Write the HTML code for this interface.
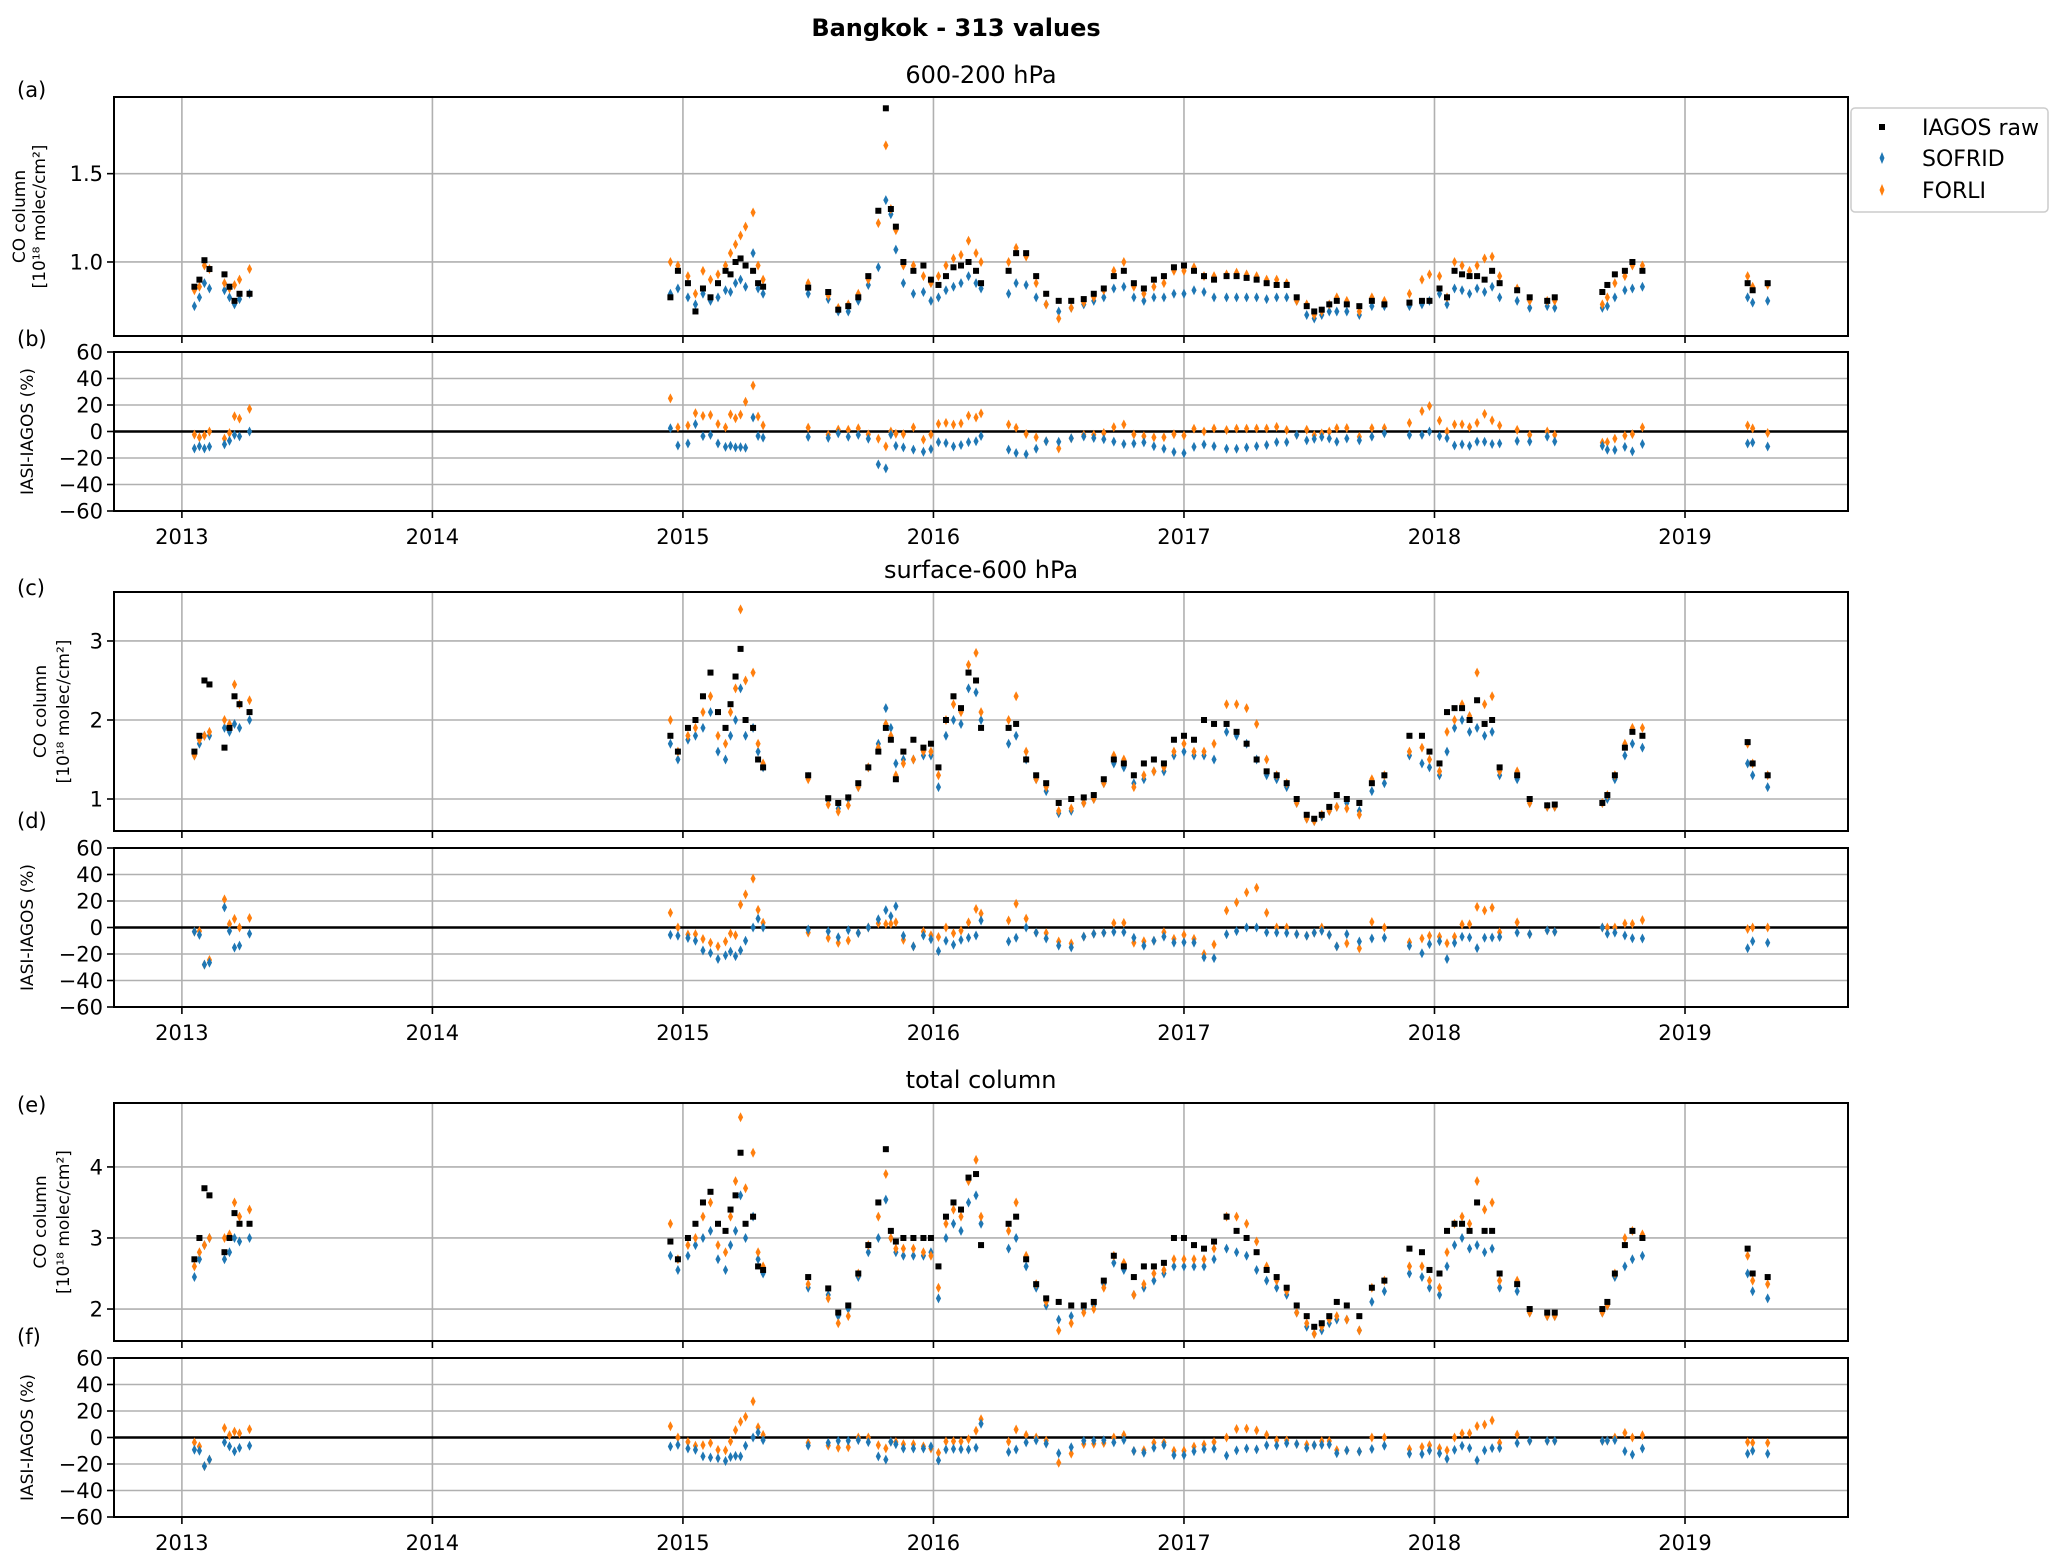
<!DOCTYPE html>
<html><head><meta charset="utf-8"><style>
html,body{margin:0;padding:0;background:#fff;}
svg{display:block;font-family:"DejaVu Sans","Liberation Sans",sans-serif;}
</style></head><body>
<svg id="fig" width="2067" height="1563" viewBox="0 0 2067 1563" xmlns="http://www.w3.org/2000/svg">
<text x="956" y="36" font-size="24" font-weight="bold" text-anchor="middle">Bangkok - 313 values</text>
<g id="plots"></g>
<g>
<rect x="1851" y="108" width="197" height="104" rx="4" fill="#fff" stroke="#ccc" stroke-width="1.5"/>
<rect x="1879" y="124" width="6" height="6" fill="#000"/>
<polygon points="1882,152 1884.5,158 1882,164 1879.5,158" fill="#1f77b4"/>
<polygon points="1882,184 1884.5,190 1882,196 1879.5,190" fill="#ff7f0e"/>
<text x="1922" y="135" font-size="22">IAGOS raw</text>
<text x="1922" y="166" font-size="22">SOFRID</text>
<text x="1922" y="198" font-size="22">FORLI</text>
</g>
</svg>
<script>
const dates=[2013.05,2013.07,2013.09,2013.11,2013.17,2013.19,2013.21,2013.23,2013.27,
2014.95,2014.98,2015.02,2015.05,2015.08,2015.11,2015.14,2015.17,2015.19,2015.21,2015.23,2015.25,2015.28,2015.30,2015.32,
2015.50,2015.58,2015.62,2015.66,2015.70,2015.74,2015.78,2015.81,2015.83,2015.85,2015.88,2015.92,2015.96,2015.99,
2016.02,2016.05,2016.08,2016.11,2016.14,2016.17,2016.19,
2016.30,2016.33,2016.37,2016.41,2016.45,
2016.50,2016.55,2016.60,2016.64,2016.68,2016.72,2016.76,2016.80,2016.84,2016.88,2016.92,2016.96,
2017.00,2017.04,2017.08,2017.12,2017.17,2017.21,2017.25,2017.29,2017.33,2017.37,2017.41,2017.45,
2017.49,2017.52,2017.55,2017.58,2017.61,2017.65,2017.70,2017.75,2017.80,
2017.90,2017.95,2017.98,2018.02,2018.05,2018.08,2018.11,2018.14,2018.17,2018.20,2018.23,2018.26,
2018.33,2018.38,2018.45,2018.48,
2018.67,2018.69,2018.72,2018.76,2018.79,2018.83,
2019.25,2019.27,2019.33];
const upperIagos=[0.86,0.90,1.01,0.96,0.93,0.86,0.78,0.82,0.82,
0.80,0.95,0.88,0.72,0.85,0.80,0.88,0.95,0.93,1.0,1.02,0.98,0.95,0.88,0.86,
0.855,0.83,0.73,0.75,0.80,0.92,1.29,1.87,1.30,1.2,1.0,0.95,0.98,0.9,
0.87,0.92,0.97,0.98,1.0,0.95,0.88,
0.95,1.05,1.05,0.92,0.82,
0.78,0.78,0.79,0.82,0.85,0.92,0.95,0.88,0.85,0.90,0.92,0.97,
0.98,0.95,0.92,0.90,0.92,0.92,0.91,0.90,0.88,0.87,0.87,0.80,
0.75,0.72,0.73,0.76,0.78,0.76,0.75,0.78,0.76,
0.77,0.78,0.78,0.85,0.80,0.95,0.93,0.92,0.92,0.90,0.95,0.88,
0.84,0.80,0.78,0.80,
0.83,0.87,0.93,0.95,1.0,0.95,
0.88,0.84,0.88];
const upperSofrid=[0.75,0.80,0.88,0.85,0.84,0.80,0.76,0.79,0.82,
0.82,0.85,0.80,0.76,0.82,0.78,0.80,0.84,0.83,0.88,0.90,0.86,1.05,0.85,0.82,
0.82,0.79,0.72,0.72,0.78,0.87,0.97,1.35,1.27,1.07,0.88,0.82,0.83,0.78,
0.80,0.84,0.86,0.88,0.92,0.88,0.85,
0.82,0.88,0.87,0.80,0.76,
0.72,0.74,0.76,0.78,0.80,0.85,0.86,0.80,0.78,0.80,0.80,0.82,
0.82,0.84,0.83,0.80,0.80,0.80,0.80,0.80,0.79,0.80,0.80,0.78,
0.70,0.68,0.70,0.72,0.72,0.72,0.70,0.75,0.75,
0.75,0.76,0.78,0.82,0.76,0.85,0.84,0.82,0.85,0.83,0.86,0.80,
0.78,0.74,0.75,0.74,
0.74,0.75,0.80,0.84,0.85,0.86,
0.80,0.77,0.78];
const upperForli=[0.84,0.86,0.98,0.96,0.88,0.85,0.87,0.90,0.96,
1.0,0.98,0.92,0.82,0.95,0.90,0.93,0.98,1.05,1.10,1.15,1.20,1.28,0.98,0.90,
0.88,0.81,0.74,0.76,0.82,0.90,1.22,1.66,1.30,1.18,0.98,0.98,0.92,0.88,
0.92,0.98,1.02,1.04,1.12,1.05,1.0,
1.0,1.08,1.03,0.88,0.76,
0.68,0.74,0.77,0.80,0.84,0.95,1.0,0.86,0.82,0.86,0.88,0.95,
0.95,0.97,0.92,0.92,0.93,0.94,0.93,0.92,0.90,0.90,0.88,0.78,
0.76,0.70,0.72,0.76,0.80,0.78,0.72,0.80,0.78,
0.82,0.90,0.93,0.92,0.80,1.0,0.98,0.95,0.98,1.02,1.03,0.92,
0.85,0.78,0.78,0.78,
0.76,0.80,0.88,0.92,0.98,0.98,
0.92,0.86,0.87];
const lowerIagos=[1.6,1.8,2.5,2.45,1.65,1.9,2.3,2.2,2.1,
1.8,1.6,1.9,2.0,2.3,2.6,2.1,1.9,2.2,2.55,2.9,2.0,1.9,1.5,1.4,
1.30,1.01,0.95,1.02,1.2,1.4,1.6,1.9,1.75,1.25,1.6,1.75,1.65,1.7,
1.4,2.0,2.3,2.15,2.6,2.5,1.9,
1.9,1.95,1.5,1.3,1.2,
0.95,1.0,1.02,1.05,1.25,1.5,1.45,1.3,1.45,1.5,1.45,1.75,
1.8,1.75,2.0,1.95,1.95,1.85,1.7,1.5,1.35,1.3,1.2,1.0,
0.8,0.75,0.8,0.9,1.05,1.0,0.95,1.2,1.3,
1.8,1.8,1.6,1.45,2.1,2.15,2.15,2.0,2.25,1.95,2.0,1.4,
1.3,1.0,0.92,0.93,
0.95,1.05,1.3,1.65,1.85,1.8,
1.72,1.45,1.3];
const lowerSofrid=[1.55,1.7,1.8,1.8,1.9,1.85,1.95,1.9,2.0,
1.7,1.5,1.75,1.8,1.9,2.1,1.6,1.5,1.8,2.0,2.4,1.8,1.9,1.6,1.4,
1.28,0.98,0.88,1.0,1.15,1.4,1.7,2.15,1.9,1.45,1.5,1.5,1.55,1.55,
1.15,1.8,2.0,1.95,2.4,2.35,2.0,
1.7,1.8,1.5,1.25,1.1,
0.82,0.85,0.95,1.0,1.2,1.45,1.4,1.2,1.25,1.35,1.35,1.55,
1.6,1.55,1.55,1.5,1.85,1.8,1.7,1.5,1.3,1.25,1.15,0.95,
0.75,0.72,0.78,0.85,0.9,0.95,0.85,1.1,1.2,
1.55,1.45,1.4,1.3,1.6,1.9,2.0,1.85,1.9,1.8,1.85,1.3,
1.25,0.95,0.9,0.9,
0.95,1.0,1.25,1.55,1.7,1.65,
1.45,1.3,1.15];
const lowerForli=[1.55,1.75,1.8,1.85,2.0,1.95,2.45,2.2,2.25,
2.0,1.6,1.8,1.9,2.1,2.3,1.8,1.7,2.1,2.4,3.4,2.5,2.6,1.7,1.45,
1.25,0.93,0.84,0.92,1.15,1.4,1.65,1.95,1.8,1.3,1.45,1.5,1.6,1.6,
1.3,2.0,2.2,2.1,2.7,2.85,2.1,
2.0,2.3,1.6,1.25,1.15,
0.85,0.88,0.95,1.0,1.2,1.55,1.5,1.15,1.3,1.35,1.4,1.6,
1.7,1.6,1.6,1.7,2.2,2.2,2.15,1.95,1.5,1.3,1.2,0.95,
0.75,0.72,0.8,0.85,0.9,0.88,0.8,1.25,1.3,
1.6,1.65,1.5,1.35,1.85,2.0,2.2,2.05,2.6,2.2,2.3,1.35,
1.35,0.95,0.9,0.9,
0.95,1.05,1.3,1.7,1.9,1.9,
1.7,1.45,1.3];
const totalIagos=[2.7,3.0,3.7,3.6,2.8,3.0,3.35,3.2,3.2,
2.95,2.7,3.0,3.2,3.5,3.65,3.2,3.1,3.4,3.6,4.2,3.2,3.3,2.6,2.55,
2.45,2.29,1.95,2.05,2.5,2.9,3.5,4.25,3.1,2.95,3.0,3.0,3.0,3.0,
2.6,3.3,3.5,3.4,3.85,3.9,2.9,
3.2,3.3,2.7,2.35,2.15,
2.1,2.05,2.05,2.1,2.4,2.75,2.6,2.45,2.6,2.6,2.65,3.0,
3.0,2.9,2.85,2.95,3.3,3.1,3.0,2.8,2.55,2.45,2.3,2.05,
1.9,1.75,1.8,1.9,2.1,2.05,1.9,2.3,2.4,
2.85,2.8,2.55,2.5,3.1,3.2,3.2,3.1,3.5,3.1,3.1,2.5,
2.35,2.0,1.95,1.95,
2.0,2.1,2.5,2.9,3.1,3.0,
2.85,2.5,2.45];
const totalSofrid=[2.45,2.7,2.9,3.0,2.7,2.8,3.0,2.95,3.0,
2.75,2.55,2.75,2.9,3.0,3.1,2.7,2.55,2.9,3.1,3.6,3.0,3.3,2.7,2.5,
2.3,2.2,1.9,2.0,2.45,2.8,3.0,3.54,3.0,2.8,2.75,2.75,2.75,2.8,
2.15,3.0,3.2,3.1,3.5,3.6,3.2,
2.85,3.0,2.6,2.3,2.05,
1.85,1.9,2.0,2.05,2.35,2.65,2.55,2.2,2.3,2.4,2.5,2.6,
2.6,2.6,2.6,2.7,2.85,2.8,2.75,2.55,2.4,2.3,2.2,1.95,
1.75,1.65,1.7,1.8,1.85,1.85,1.7,2.1,2.25,
2.5,2.45,2.3,2.2,2.6,2.9,3.0,2.85,2.9,2.8,2.85,2.3,
2.25,1.95,1.9,1.9,
1.95,2.05,2.45,2.6,2.7,2.75,
2.5,2.25,2.15];
const totalForli=[2.6,2.8,2.9,3.0,3.0,3.05,3.5,3.3,3.4,
3.2,2.7,2.9,3.0,3.3,3.5,2.9,2.8,3.3,3.8,4.7,3.7,4.2,2.8,2.6,
2.35,2.15,1.8,1.9,2.5,2.9,3.3,3.9,3.0,2.85,2.85,2.85,2.8,2.75,
2.3,3.2,3.4,3.3,3.8,4.1,3.3,
3.1,3.5,2.75,2.35,2.1,
1.7,1.8,1.95,2.0,2.3,2.75,2.65,2.2,2.35,2.5,2.55,2.7,
2.7,2.7,2.7,2.85,3.3,3.3,3.2,2.95,2.6,2.4,2.25,1.95,
1.8,1.65,1.75,1.85,1.9,1.85,1.7,2.3,2.4,
2.6,2.6,2.4,2.3,2.8,3.2,3.3,3.2,3.8,3.4,3.5,2.4,
2.4,1.95,1.9,1.9,
1.95,2.05,2.5,3.0,3.1,3.05,
2.75,2.4,2.35];
const yearTicks=[2013,2014,2015,2016,2017,2018,2019];
const diffTicks=[60,40,20,0,-20,-40,-60];

const NS='http://www.w3.org/2000/svg';
const root=document.getElementById('plots');
const L=114,R=1848,XMIN=2012.729,XMAX=2019.6506;
function xs(d){return L+(d-XMIN)/(XMAX-XMIN)*(R-L);}
function mk(tag,attrs,parent){const e=document.createElementNS(NS,tag);for(const k in attrs)e.setAttribute(k,attrs[k]);(parent||root).appendChild(e);return e;}

function axes(top,bot,ymin,ymax,ticks,name,labelLines,labelX,letter,letterY,showX,title,titleY,decimals){
  const g=mk('g',{});
  
  
  const ys=v=>bot-(v-ymin)/(ymax-ymin)*(bot-top);
  yearTicks.forEach(t=>{const x=xs(t);mk('line',{x1:x,x2:x,y1:top,y2:bot,stroke:'#b0b0b0','stroke-width':1.6},g);mk('line',{x1:x,x2:x,y1:bot,y2:bot+7,stroke:'#000','stroke-width':1.6},g);
    if(showX){const tx=mk('text',{x:x,y:bot+33,'font-size':21,'text-anchor':'middle'},g);tx.textContent=t;}});
  ticks.forEach(t=>{const y=ys(t);mk('line',{x1:L,x2:R,y1:y,y2:y,stroke:'#b0b0b0','stroke-width':1.6},g);mk('line',{x1:L-7,x2:L,y1:y,y2:y,stroke:'#000','stroke-width':1.6},g);
    const tx=mk('text',{x:L-11,y:y+7.5,'font-size':21,'text-anchor':'end'},g);tx.textContent=(t<0?'\u2212'+(-t):t.toFixed(decimals));
    });
  const lt=mk('text',{x:17,y:letterY,'font-size':21},g);lt.textContent=letter;
  
  const cy=(top+bot)/2;
  labelLines.forEach((s,i)=>{const x=labelX[i];const tx=mk('text',{x:x,y:cy,'font-size':17,'text-anchor':'middle',transform:`rotate(-90 ${x} ${cy})`},g);tx.textContent=s;
    });
  if(title){const tt=mk('text',{x:(L+R)/2,y:titleY,'font-size':24,'text-anchor':'middle'},g);tt.textContent=title;
    }
  return {g,ys,top,bot};
}
function frame(ax){mk('rect',{x:L,y:ax.top,width:R-L,height:ax.bot-ax.top,fill:'none',stroke:'#000','stroke-width':2},ax.g);}
function diamond(g,x,y,c){if(!isFinite(y))return;const p=mk('polygon',{points:`${x},${y-5} ${x+2.6},${y} ${x},${y+5} ${x-2.6},${y}`,fill:c},g);
  }
function square(g,x,y){if(!isFinite(y))return;const p=mk('rect',{x:x-3,y:y-3,width:6,height:6,fill:'#000'},g);
  }

function panelPair(topA,botA,ymin,ymax,ticks,dec,topB,botB,letters,lyA,lyB,labX,title,titleY,I,S,F){
  const a=axes(topA,botA,ymin,ymax,ticks,'co-column-panel-'+letters[0],['CO column','[10\u00b9\u2078 molec/cm\u00b2]'],labX,'('+letters[0]+')',lyA,false,title,titleY,dec);
  dates.forEach((d,i)=>{const x=xs(d);diamond(a.g,x,a.ys(S[i]),'#1f77b4');diamond(a.g,x,a.ys(F[i]),'#ff7f0e');square(a.g,x,a.ys(I[i]));});
  frame(a);
  const b=axes(topB,botB,-60,60,diffTicks,'difference-panel-'+letters[1],['IASI-IAGOS (%)'],[33],'('+letters[1]+')',lyB,true,null,0,0);
  const zl=mk('line',{x1:L,x2:R,y1:b.ys(0),y2:b.ys(0),stroke:'#000','stroke-width':2.5},b.g);
  
  dates.forEach((d,i)=>{const x=xs(d);diamond(b.g,x,b.ys((F[i]-I[i])/I[i]*100),'#ff7f0e');diamond(b.g,x,b.ys((S[i]-I[i])/I[i]*100),'#1f77b4');});
  frame(b);
}
panelPair(97,336,0.581,1.934,[1.0,1.5],1,352,511,['a','b'],97,346,[25,45],'600-200 hPa',83,upperIagos,upperSofrid,upperForli);
panelPair(592,831,0.595,3.62,[1,2,3],0,848,1007,['c','d'],595,828,[46,69],'surface-600 hPa',578,lowerIagos,lowerSofrid,lowerForli);
panelPair(1103,1341,1.55,4.9,[2,3,4],0,1358,1517,['e','f'],1112,1344,[46,69],'total column',1088,totalIagos,totalSofrid,totalForli);
</script>
</body></html>
